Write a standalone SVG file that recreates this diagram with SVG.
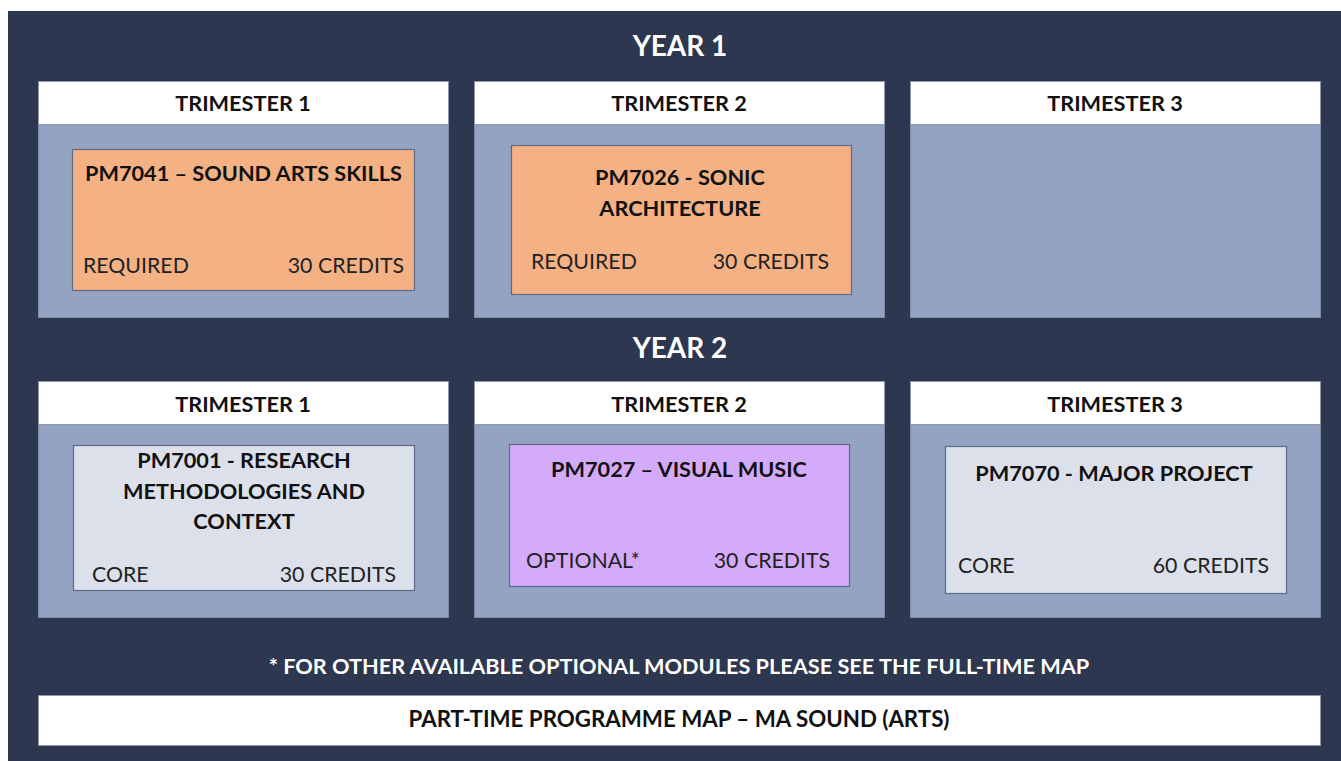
<svg xmlns="http://www.w3.org/2000/svg" width="1341" height="761" viewBox="0 0 1341 761">
<style>
.hdr{fill:#ffffff;stroke:#8e98b0;stroke-width:1}
.body{fill:#95a3c3;stroke:#7d8aa8;stroke-width:1}
.mod{stroke:#5d6a88;stroke-width:1.2}
.orange{fill:#f4b183}
.light{fill:#dbe0eb}
.purple{fill:#d4aafb}
text{font-family:Lato,"Open Sans","Liberation Sans",sans-serif;fill:#111111}
.year{font-size:28px;font-weight:bold;fill:#ffffff;text-anchor:middle}
.th{font-size:21.7px;font-weight:bold;text-anchor:middle}
.mt{font-size:21.7px;font-weight:bold;text-anchor:middle}
.ml{font-size:21.3px;fill:#222222}
.mr{font-size:21.3px;fill:#222222;text-anchor:end}
.foot{font-size:21.7px;font-weight:bold;fill:#ffffff;text-anchor:middle}
.bar{font-size:22.3px;font-weight:bold;text-anchor:middle}
</style>
<rect x="0" y="0" width="1341" height="761" fill="#ffffff"/>
<rect x="8" y="11" width="1333" height="750" fill="#2e3750"/>
<text class="year" x="680" y="56">YEAR 1</text>
<text class="year" x="680" y="358">YEAR 2</text>

<g id="y1t1">
<rect class="body" x="38.5" y="124.5" width="410" height="193"/>
<rect class="hdr" x="38.5" y="81.5" width="410" height="43"/>
<text class="th" x="243" y="111">TRIMESTER 1</text>
</g>
<g id="y1t2">
<rect class="body" x="474.5" y="124.5" width="410" height="193"/>
<rect class="hdr" x="474.5" y="81.5" width="410" height="43"/>
<text class="th" x="679" y="111">TRIMESTER 2</text>
</g>
<g id="y1t3">
<rect class="body" x="910.5" y="124.5" width="410" height="193"/>
<rect class="hdr" x="910.5" y="81.5" width="410" height="43"/>
<text class="th" x="1115" y="111">TRIMESTER 3</text>
</g>
<g id="y2t1">
<rect class="body" x="38.5" y="424.5" width="410" height="193"/>
<rect class="hdr" x="38.5" y="381.5" width="410" height="43"/>
<text class="th" x="243" y="412">TRIMESTER 1</text>
</g>
<g id="y2t2">
<rect class="body" x="474.5" y="424.5" width="410" height="193"/>
<rect class="hdr" x="474.5" y="381.5" width="410" height="43"/>
<text class="th" x="679" y="412">TRIMESTER 2</text>
</g>
<g id="y2t3">
<rect class="body" x="910.5" y="424.5" width="410" height="193"/>
<rect class="hdr" x="910.5" y="381.5" width="410" height="43"/>
<text class="th" x="1115" y="412">TRIMESTER 3</text>
</g>

<g id="pm7041">
<rect class="mod orange" x="72.5" y="149.5" width="342" height="141"/>
<text class="mt" x="243.5" y="181">PM7041 – SOUND ARTS SKILLS</text>
<text class="ml" x="83" y="273">REQUIRED</text>
<text class="mr" x="404" y="273">30 CREDITS</text>
</g>
<g id="pm7026">
<rect class="mod orange" x="511.5" y="145.5" width="340" height="149"/>
<text class="mt" x="680" y="185">PM7026 - SONIC</text>
<text class="mt" x="680" y="216">ARCHITECTURE</text>
<text class="ml" x="531" y="269">REQUIRED</text>
<text class="mr" x="829" y="269">30 CREDITS</text>
</g>
<g id="pm7001">
<rect class="mod light" x="73.5" y="445.5" width="341" height="145"/>
<text class="mt" x="244" y="468">PM7001 - RESEARCH</text>
<text class="mt" x="244" y="499">METHODOLOGIES AND</text>
<text class="mt" x="244" y="529">CONTEXT</text>
<text class="ml" x="92" y="582">CORE</text>
<text class="mr" x="396" y="582">30 CREDITS</text>
</g>
<g id="pm7027">
<rect class="mod purple" x="509.5" y="444.5" width="340" height="142"/>
<text class="mt" x="679" y="477">PM7027 – VISUAL MUSIC</text>
<text class="ml" x="526" y="568">OPTIONAL*</text>
<text class="mr" x="830" y="568">30 CREDITS</text>
</g>
<g id="pm7070">
<rect class="mod light" x="945.5" y="446.5" width="341" height="147"/>
<text class="mt" x="1114" y="481">PM7070 - MAJOR PROJECT</text>
<text class="ml" x="958" y="573">CORE</text>
<text class="mr" x="1269" y="573">60 CREDITS</text>
</g>

<g id="footnote">
<text class="foot" x="679" y="674">* FOR OTHER AVAILABLE OPTIONAL MODULES PLEASE SEE THE FULL-TIME MAP</text>
</g>
<g id="titlebar">
<rect class="hdr" x="38.5" y="695.5" width="1282" height="50"/>
<text class="bar" x="679" y="727">PART-TIME PROGRAMME MAP – MA SOUND (ARTS)</text>
</g>
<g id="connectors"></g>
</svg>
